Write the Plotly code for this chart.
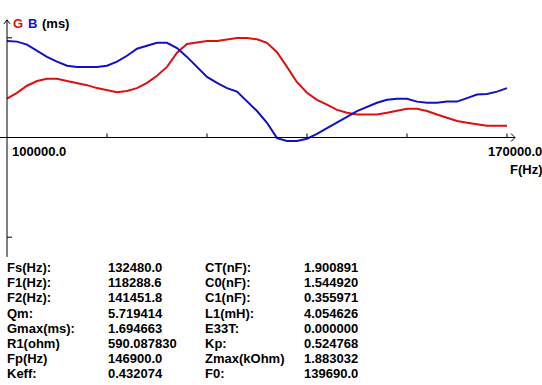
import plotly.graph_objects as go

W, H = 542, 385

freq_hz = [100000, 101400, 102800, 104200, 105600, 107000, 108400, 109800, 111200, 112600,
           114000, 115400, 116800, 118200, 119600, 121000, 122400, 123800, 125200, 126600,
           128000, 129400, 130800, 132200, 133600, 135000, 136400, 137800, 139200, 140600,
           142000, 143400, 144800, 146200, 147600, 149000, 150400, 151800, 153200, 154600,
           156000, 157400, 158800, 160200, 161600, 163000, 164400, 165800, 167200, 168600,
           170000]

g_ms = [0.66, 0.76, 0.88, 0.96, 1.00, 1.00, 0.96, 0.93, 0.89, 0.84,
        0.81, 0.77, 0.79, 0.84, 0.93, 1.05, 1.20, 1.44, 1.59, 1.62,
        1.64, 1.64, 1.66, 1.69, 1.69, 1.67, 1.61, 1.45, 1.20, 0.94,
        0.76, 0.64, 0.56, 0.47, 0.42, 0.39, 0.39, 0.39, 0.42, 0.45,
        0.49, 0.49, 0.45, 0.39, 0.33, 0.28, 0.25, 0.22, 0.20, 0.20,
        0.20]

b_ms = [1.64, 1.63, 1.58, 1.47, 1.37, 1.29, 1.22, 1.20, 1.20, 1.20,
        1.22, 1.29, 1.39, 1.51, 1.56, 1.61, 1.61, 1.52, 1.37, 1.20,
        1.03, 0.93, 0.84, 0.78, 0.62, 0.45, 0.25, -0.01, -0.06, -0.06,
        -0.02, 0.06, 0.16, 0.25, 0.35, 0.45, 0.52, 0.59, 0.64, 0.66,
        0.66, 0.61, 0.59, 0.59, 0.61, 0.61, 0.67, 0.73, 0.74, 0.78,
        0.84]

x_ticks = [114000, 128000, 142000, 156000, 170000]
y_ticks = [1.694663, -1.694663]
x_min_label = "100000.0"
x_max_label = "170000.0"

param_labels_1 = ["Fs(Hz):", "F1(Hz):", "F2(Hz):", "Qm:", "Gmax(ms):", "R1(ohm)", "Fp(Hz)", "Keff:"]
param_values_1 = ["132480.0", "118288.6", "141451.8", "5.719414", "1.694663", "590.087830", "146900.0", "0.432074"]
param_labels_2 = ["CT(nF):", "C0(nF):", "C1(nF):", "L1(mH):", "E33T:", "Kp:", "Zmax(kOhm)", "F0:"]
param_values_2 = ["1.900891", "1.544920", "0.355971", "4.054626", "0.000000", "0.524768", "1.883032", "139690.0"]

RED = "#dd1010"
BLUE = "#1010c8"
FONT = dict(family="Liberation Sans, Arial, sans-serif", size=13, color="black", weight="bold")

HZ_PER_PX = 140.0
MS_PER_PX = 0.017
X0 = 100000.0

fig = go.Figure()
fig.add_trace(go.Scatter(x=freq_hz, y=g_ms, mode="lines", line=dict(color=RED, width=2), hoverinfo="skip"))
fig.add_trace(go.Scatter(x=freq_hz, y=b_ms, mode="lines", line=dict(color=BLUE, width=2), hoverinfo="skip"))

line_style = dict(color="black", width=1)
# y axis with arrow
y_top = 2.0
y_bot = -2.03
fig.add_shape(type="line", x0=X0, x1=X0, y0=y_bot, y1=y_top, line=line_style)
fig.add_shape(type="line", x0=X0 - 3 * HZ_PER_PX, x1=X0, y0=y_top - 4 * MS_PER_PX, y1=y_top, line=line_style)
fig.add_shape(type="line", x0=X0 + 3 * HZ_PER_PX, x1=X0, y0=y_top - 4 * MS_PER_PX, y1=y_top, line=line_style)
# x axis with arrow
x_end = 171120
fig.add_shape(type="line", x0=X0 - 7 * HZ_PER_PX, x1=x_end, y0=0, y1=0, line=line_style)
fig.add_shape(type="line", x0=x_end - 4 * HZ_PER_PX, x1=x_end, y0=4 * MS_PER_PX, y1=0, line=line_style)
fig.add_shape(type="line", x0=x_end - 4 * HZ_PER_PX, x1=x_end, y0=-4 * MS_PER_PX, y1=0, line=line_style)
for t in x_ticks:
    fig.add_shape(type="line", x0=t, x1=t, y0=0, y1=4 * MS_PER_PX, line=line_style)
for t in y_ticks:
    fig.add_shape(type="line", x0=X0, x1=X0 + 5 * HZ_PER_PX, y0=t, y1=t, line=line_style)


def px(x, y):
    return x / W, 1 - y / H


def label(text, x, y, color="black", anchor="left"):
    ax, ay = px(x, y)
    f = dict(FONT)
    f["color"] = color
    fig.add_annotation(x=ax, y=ay, xref="paper", yref="paper", text=text, showarrow=False,
                       xanchor=anchor, yanchor="middle", font=f, borderpad=0)


label("G", 12, 23, RED)
label("B", 27, 23, BLUE)
label("(ms)", 41, 23)
label(x_min_label, 11, 151.5)
label(x_max_label, 487, 151)
label("F(Hz)", 509, 169)

row_y0 = 267.5
row_dy = 15.2
for i in range(len(param_labels_1)):
    yy = row_y0 + i * row_dy
    label(param_labels_1[i], 6, yy)
    label(param_values_1[i], 107, yy)
    label(param_labels_2[i], 204, yy)
    label(param_values_2[i], 303, yy)

fig.update_layout(
    width=W, height=H,
    margin=dict(l=0, r=0, t=0, b=0),
    paper_bgcolor="white", plot_bgcolor="white",
    showlegend=False,
    xaxis=dict(range=[X0 - 7 * HZ_PER_PX, X0 + 513 * HZ_PER_PX], domain=[0, 520 / W],
               visible=False, fixedrange=True),
    yaxis=dict(range=[-122.5 * MS_PER_PX, 122.5 * MS_PER_PX], domain=[1 - 260 / H, 1 - 15 / H],
               visible=False, fixedrange=True),
)

fig.write_html("out.html", config={"displayModeBar": False},
               post_script="document.body.style.margin='0px';document.body.style.overflow='hidden';")
